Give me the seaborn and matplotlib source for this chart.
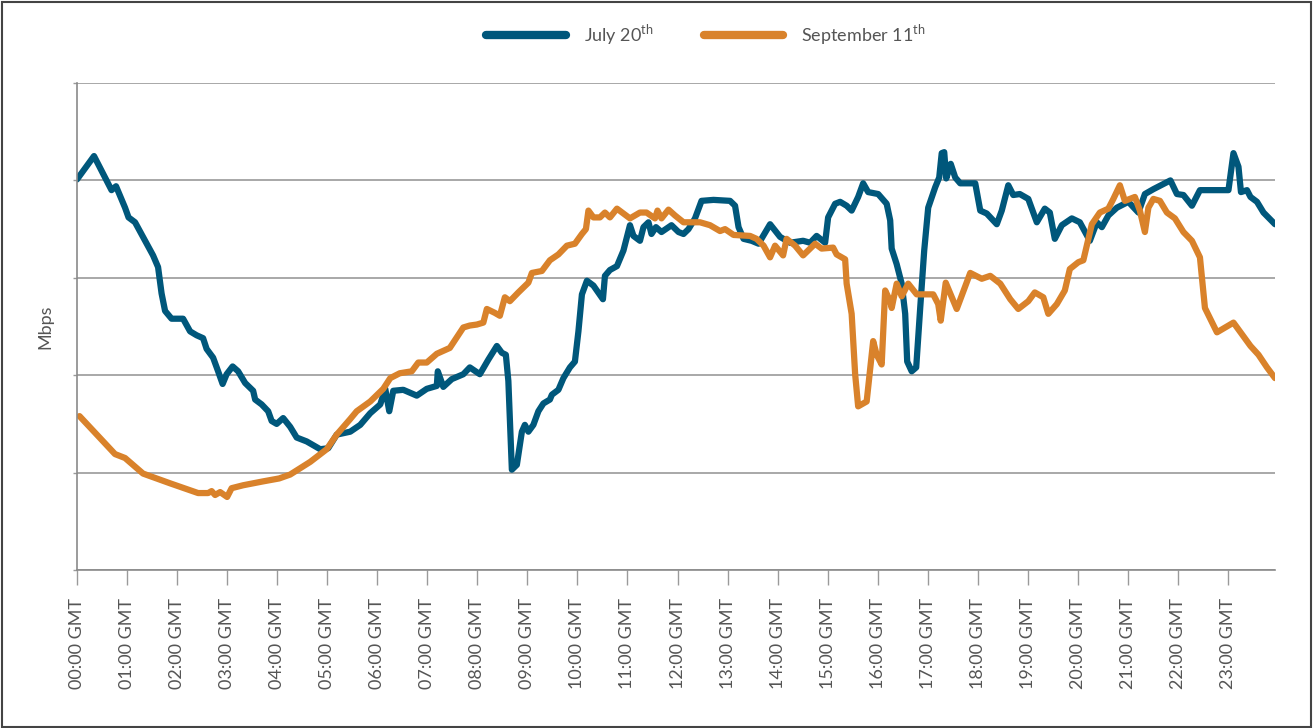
import pandas as pd
import seaborn as sb
import matplotlib.pyplot as plt
from matplotlib.patches import Rectangle


# Data (hours since 00:00 GMT, value in gridline units)
july_hours = [0.00, 0.34, 0.69, 0.78, 0.96, 1.03, 1.16, 1.52, 1.62, 1.69, 1.76, 1.89, 2.12, 2.26,
              2.39, 2.52, 2.59, 2.72, 2.82, 2.91, 2.99, 3.11, 3.22, 3.36, 3.52, 3.56, 3.69, 3.82,
              3.89, 3.99, 4.12, 4.26, 4.39, 4.59, 4.86, 5.02, 5.19, 5.46, 5.66, 5.86, 6.06, 6.16,
              6.24, 6.32, 6.52, 6.79, 6.99, 7.19, 7.21, 7.32, 7.49, 7.72, 7.85, 8.05, 8.22, 8.39,
              8.49, 8.57, 8.62, 8.69, 8.79, 8.89, 8.95, 9.02, 9.12, 9.22, 9.32, 9.45, 9.49, 9.62,
              9.72, 9.85, 9.95, 10.02, 10.09, 10.19, 10.32, 10.51, 10.55, 10.65, 10.79, 10.92,
              11.05, 11.12, 11.25, 11.32, 11.42, 11.48, 11.57, 11.68, 11.88, 12.02, 12.12, 12.22,
              12.35, 12.48, 12.72, 13.05, 13.15, 13.22, 13.32, 13.48, 13.62, 13.85, 14.05, 14.25,
              14.51, 14.65, 14.78, 14.95, 15.01, 15.15, 15.25, 15.38, 15.48, 15.61, 15.71, 15.81,
              16.01, 16.18, 16.25, 16.28, 16.38, 16.48, 16.55, 16.59, 16.68, 16.77, 16.85, 16.93,
              17.01, 17.15, 17.23, 17.28, 17.33, 17.37, 17.46, 17.55, 17.65, 17.95, 18.05, 18.18,
              18.38, 18.48, 18.61, 18.71, 18.84, 19.01, 19.18, 19.34, 19.44, 19.54, 19.68, 19.88,
              20.04, 20.24, 20.38, 20.48, 20.61, 20.78, 21.01, 21.21, 21.34, 21.51, 21.85, 21.98,
              22.11, 22.28, 22.44, 23.01, 23.11, 23.21, 23.26, 23.38, 23.45, 23.58, 23.71, 23.94]
july_values = [4.01, 4.25, 3.90, 3.94, 3.72, 3.62, 3.57, 3.23, 3.11, 2.84, 2.66, 2.58, 2.58, 2.45,
               2.41, 2.38, 2.27, 2.18, 2.04, 1.91, 2.01, 2.09, 2.04, 1.92, 1.84, 1.75, 1.70, 1.63,
               1.53, 1.50, 1.56, 1.47, 1.36, 1.32, 1.24, 1.25, 1.39, 1.42, 1.49, 1.61, 1.70, 1.86,
               1.63, 1.84, 1.85, 1.79, 1.86, 1.89, 2.04, 1.88, 1.96, 2.01, 2.08, 2.01, 2.16, 2.30,
               2.23, 2.21, 1.94, 1.03, 1.08, 1.42, 1.49, 1.42, 1.49, 1.63, 1.71, 1.75, 1.80, 1.85,
               1.97, 2.08, 2.14, 2.45, 2.83, 2.97, 2.92, 2.78, 3.02, 3.08, 3.12, 3.28,
               3.54, 3.43, 3.38, 3.52, 3.57, 3.45, 3.52, 3.47, 3.54, 3.47, 3.45, 3.50,
               3.61, 3.79, 3.80, 3.79, 3.74, 3.52, 3.40, 3.38, 3.35, 3.55, 3.42, 3.36,
               3.38, 3.36, 3.43, 3.36, 3.62, 3.76, 3.78, 3.74, 3.69, 3.83, 3.97, 3.88,
               3.86, 3.76, 3.59, 3.30, 3.14, 2.94, 2.63, 2.14, 2.04, 2.08, 2.69, 3.28,
               3.72, 3.93, 4.03, 4.28, 4.29, 4.02, 4.17, 4.03, 3.97, 3.97, 3.69, 3.66,
               3.55, 3.69, 3.95, 3.85, 3.86, 3.81, 3.57, 3.71, 3.67, 3.40, 3.54, 3.61,
               3.57, 3.38, 3.57, 3.52, 3.64, 3.72, 3.78, 3.67, 3.86, 3.91, 4.00, 3.86,
               3.85, 3.74, 3.90, 3.90, 4.28, 4.14, 3.88, 3.90, 3.83, 3.78, 3.67, 3.55]

sept_hours = [0.05, 0.76, 0.96, 1.32, 1.86, 2.42, 2.62, 2.69, 2.76, 2.86, 3.00, 3.09, 3.32, 3.72,
              4.04, 4.26, 4.66, 4.99, 5.19, 5.46, 5.59, 5.86, 6.12, 6.26, 6.45, 6.69, 6.82, 6.99,
              7.19, 7.45, 7.72, 7.85, 7.99, 8.12, 8.19, 8.35, 8.45, 8.55, 8.65, 8.82, 9.02, 9.09,
              9.29, 9.45, 9.62, 9.79, 9.95, 10.09, 10.17, 10.22, 10.32, 10.45, 10.55, 10.65, 10.79,
              11.05, 11.25, 11.38, 11.55, 11.60, 11.68, 11.82, 11.95, 12.12, 12.45, 12.65, 12.85,
              12.95, 13.12, 13.45, 13.58, 13.72, 13.85, 13.95, 14.11, 14.18, 14.35, 14.51, 14.75,
              14.88, 15.11, 15.18, 15.35, 15.38, 15.48, 15.55, 15.61, 15.78, 15.91, 15.98, 16.08,
              16.15, 16.25, 16.28, 16.38, 16.48, 16.61, 16.78, 17.11, 17.21, 17.26, 17.36, 17.58,
              17.85, 18.08, 18.25, 18.45, 18.65, 18.81, 19.01, 19.14, 19.31, 19.41, 19.58, 19.74,
              19.84, 20.01, 20.11, 20.28, 20.44, 20.61, 20.71, 20.84, 20.94, 21.14, 21.24, 21.34,
              21.41, 21.51, 21.64, 21.78, 21.94, 22.11, 22.28, 22.44, 22.50, 22.54, 22.78, 23.01,
              23.11, 23.28, 23.45, 23.61, 23.78, 23.94]
sept_values = [1.58, 1.19, 1.15, 0.99, 0.89, 0.79, 0.79, 0.81, 0.77, 0.80, 0.75, 0.84, 0.87, 0.91,
               0.94, 0.98, 1.11, 1.24, 1.39, 1.55, 1.63, 1.73, 1.86, 1.97, 2.02, 2.04, 2.13, 2.13,
               2.22, 2.28, 2.49, 2.51, 2.52, 2.54, 2.68, 2.64, 2.61, 2.80, 2.76, 2.85, 2.95, 3.05,
               3.07, 3.18, 3.24, 3.33, 3.35, 3.45, 3.50, 3.69, 3.62, 3.62, 3.67, 3.62, 3.71,
               3.61, 3.67, 3.67, 3.61, 3.69, 3.61, 3.70, 3.64, 3.57, 3.57, 3.54, 3.48,
               3.50, 3.44, 3.43, 3.40, 3.33, 3.21, 3.33, 3.23, 3.40, 3.33, 3.23, 3.35,
               3.30, 3.31, 3.24, 3.19, 2.94, 2.63, 2.01, 1.68, 1.73, 2.35, 2.21, 2.11,
               2.87, 2.76, 2.69, 2.94, 2.81, 2.94, 2.83, 2.83, 2.73, 2.56, 2.95, 2.68,
               3.05, 2.99, 3.02, 2.94, 2.78, 2.68, 2.76, 2.85, 2.80, 2.63, 2.73, 2.87,
               3.09, 3.16, 3.18, 3.55, 3.67, 3.71, 3.81, 3.95, 3.79, 3.83, 3.69, 3.47,
               3.72, 3.81, 3.79, 3.67, 3.61, 3.47, 3.38, 3.21, 2.90, 2.69, 2.44, 2.51,
               2.54, 2.42, 2.30, 2.21, 2.08, 1.97]

series_names = ['July 20$^{\\mathrm{th}}$', 'September 11$^{\\mathrm{th}}$']
series_colors = ['#00577b', '#d9822b']
tick_hours = list(range(24))
tick_labels = [f'{h:02d}:00 GMT' for h in tick_hours]

Data = pd.concat([
    pd.DataFrame({'Hour': july_hours, 'Mbps': july_values, 'Day': series_names[0]}),
    pd.DataFrame({'Hour': sept_hours, 'Mbps': sept_values, 'Day': series_names[1]}),
], ignore_index=True)

sb.set_style('white')
plt.rcParams['font.family'] = ['Lato', 'DejaVu Sans']
plt.rcParams['mathtext.fontset'] = 'custom'
plt.rcParams['mathtext.rm'] = 'Lato'

fig = plt.figure(figsize=(13.13, 7.28), dpi=100)
ax = fig.add_axes([77 / 1313, 1 - 570 / 728, 1198 / 1313, 487 / 728])

sb.lineplot(data=Data, x='Hour', y='Mbps', hue='Day', hue_order=series_names,
            palette=series_colors, estimator=None, sort=False, linewidth=4.5, ax=ax,
            solid_capstyle='round', solid_joinstyle='round')

ax.set_xlim(0, 23.94)
ax.set_ylim(0, 5)
ax.set_yticks([0, 1, 2, 3, 4, 5])
ax.set_yticklabels([])
ax.set_xticks(tick_hours)
ax.set_xticklabels(tick_labels, rotation=90, fontsize=13, color='#555555')
ax.tick_params(axis='x', length=11, width=1, color='#9a9a9a', pad=9, direction='out', bottom=True)
ax.tick_params(axis='y', length=3, width=1, color='#9a9a9a', direction='out', left=True)
ax.grid(axis='y', color='#9a9a9a', linewidth=1.2)
ax.set_axisbelow(True)
for side in ['top', 'right']:
    ax.spines[side].set_visible(False)
for side in ['left', 'bottom']:
    ax.spines[side].set_color('#8a8a8a')
    ax.spines[side].set_linewidth(1.2)

ax.set_xlabel('')
ax.set_ylabel('Mbps', fontsize=13, color='#555555')
ax.yaxis.set_label_coords(-0.02, 0.5)

ax.legend_.remove()
handles = [plt.Line2D([], [], color=c, linewidth=6, solid_capstyle='round') for c in series_colors]
fig.legend(handles, series_names, loc='center', bbox_to_anchor=(706 / 1313, 1 - 35 / 728),
           ncol=2, frameon=False, fontsize=13, handlelength=4.4, handletextpad=1.0,
           columnspacing=2.8, labelcolor='#555555')

fig.add_artist(Rectangle((0.0015, 0.002), 0.997, 0.995, transform=fig.transFigure,
                         fill=False, edgecolor='#444444', linewidth=1.5))

plt.savefig('out.png', dpi=100)
